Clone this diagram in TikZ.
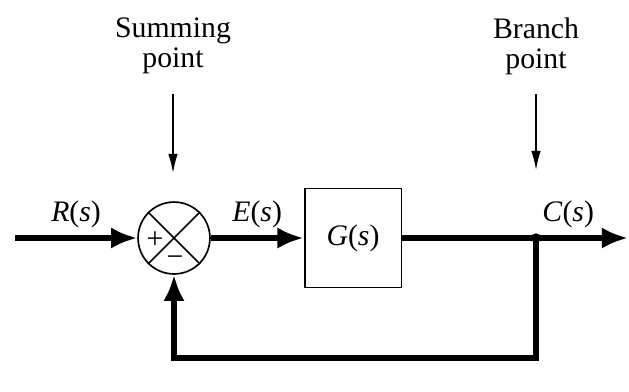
\documentclass[tikz,border=0pt]{standalone}
\usepackage{fontspec}
\setmainfont{Liberation Serif}
\usetikzlibrary{positioning,arrows.meta,calc}

\begin{document}
\begin{tikzpicture}[
    x=0.42pt,y=-0.42pt,
    txt/.style={font=\fontsize{12.5}{12.6}\selectfont,align=center,inner sep=2pt},
    sumstyle/.style={draw,circle,line width=0.7pt,minimum size=30.2pt,inner sep=0pt},
    blockstyle/.style={draw,line width=0.8pt,minimum width=40.7pt,minimum height=41.6pt,txt},
    sig/.style={line width=2.9pt,line join=miter},
    sigarr/.style={sig,-{Latex[length=11pt,width=9pt]}},
    pointer/.style={line width=0.65pt,-{Latex[length=8pt,width=4pt]}}
]
\useasboundingbox (0,0) rectangle (629,391);

% labels on top
\node[txt] (sumlbl) at (173,46) {Summing\\point};
\node[txt] (brlbl) at (536,46) {Branch\\point};

% loop elements
\coordinate (in) at (15,238);
\node[sumstyle] (sum) at (174,238) {};
\draw[line width=0.7pt] (sum.north west) -- (sum.south east);
\draw[line width=0.7pt] (sum.north east) -- (sum.south west);
\node[txt,font=\fontsize{12.5}{12.5}\selectfont] at (155,240) {+};
\node[txt,font=\fontsize{12.5}{12.5}\selectfont] at (175,261) {\textminus};
\node[blockstyle] (G) at (353,238) {\textit{G}(\textit{s})};
\coordinate (br) at (536,238);
\coordinate (out) at (628,238);
\coordinate (fb) at (536,358);

% signals
\draw[sigarr] (in) -- node[txt,above=1pt] {\textit{R}(\textit{s})} (sum.west);
\draw[sigarr] (sum.east) -- node[txt,above=1pt] {\textit{E}(\textit{s})} (G.west);
\draw[sig] (G.east) -- (br);
\draw[sigarr] (br) -- node[txt,above=1pt,pos=0.35] {\textit{C}(\textit{s})} (out);
\draw[sigarr] (br) -- (fb) -| (sum.south);
\fill (br) circle (2pt);

% pointers
\coordinate (sumtip) at (173,173);
\coordinate (brtip) at (536,170);
\draw[pointer,shorten <=6pt] (sumlbl.south) -- (sumtip);
\draw[pointer,shorten <=6pt] (brlbl.south) -- (brtip);
\end{tikzpicture}
\end{document}
